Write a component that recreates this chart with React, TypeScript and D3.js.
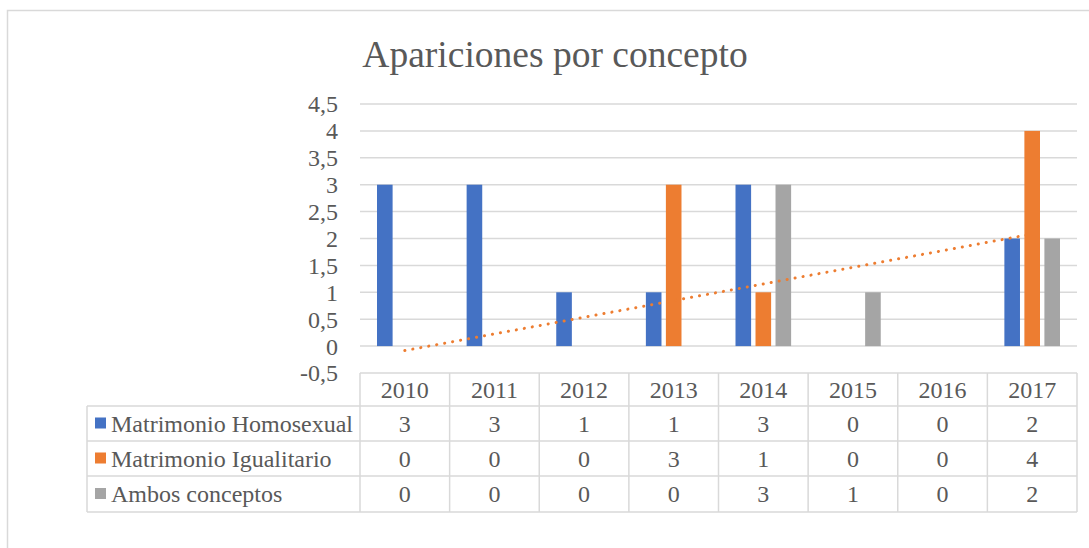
import { useEffect, useRef } from "react";
import * as d3 from "d3";

const years = ["2010", "2011", "2012", "2013", "2014", "2015", "2016", "2017"];
const seriesNames = ["Matrimonio Homosexual", "Matrimonio Igualitario", "Ambos conceptos"];
const homosexual = [3, 3, 1, 1, 3, 0, 0, 2];
const igualitario = [0, 0, 0, 3, 1, 0, 0, 4];
const ambos = [0, 0, 0, 0, 3, 1, 0, 2];
const colors = ["#4472C4", "#ED7D31", "#A5A5A5"];
const yTicks = [-0.5, 0, 0.5, 1, 1.5, 2, 2.5, 3, 3.5, 4, 4.5];

const W = 1089;
const H = 548;
const font = "'Liberation Serif', 'Times New Roman', serif";
const fs = 24;

export default function App() {
  const svgRef = useRef<SVGSVGElement>(null);

  useEffect(() => {
    const svg = d3.select(svgRef.current);
    svg.selectAll("*").remove();

    const series = [homosexual, igualitario, ambos];
    const left = 360, right = 1077, top = 104, bottom = 373;
    const rowH = [33, 35, 35, 36];

    const x = d3.scaleBand().domain(years).range([left, right]).paddingInner(0).paddingOuter(0);
    const y = d3.scaleLinear().domain([-0.5, 4.5]).range([bottom, top]);
    const inner = d3.scaleBand().domain(["0", "1", "2"]).range([17, x.bandwidth() - 17]).paddingInner(0.22);

    // chart frame
    svg.append("path")
      .attr("d", `M7.5,${H}V10.5H${W}`)
      .attr("fill", "none")
      .attr("stroke", "#d9d9d9")
      .attr("stroke-width", 1.5);

    svg.append("text")
      .attr("x", 555)
      .attr("y", 67)
      .attr("text-anchor", "middle")
      .attr("font-family", font)
      .attr("font-size", 37.5)
      .attr("fill", "#595959")
      .text("Apariciones por concepto");

    // gridlines
    svg.append("g").selectAll("line")
      .data(yTicks.filter(t => t > -0.5))
      .enter().append("line")
      .attr("x1", left).attr("x2", right)
      .attr("y1", d => y(d)).attr("y2", d => y(d))
      .attr("stroke", "#d9d9d9")
      .attr("stroke-width", 1.5);

    svg.append("g").selectAll("text")
      .data(yTicks)
      .enter().append("text")
      .attr("x", 338)
      .attr("y", d => y(d))
      .attr("dy", "0.35em")
      .attr("text-anchor", "end")
      .attr("font-family", font)
      .attr("font-size", fs)
      .attr("fill", "#595959")
      .text(d => String(d).replace(".", ","));

    // bars
    series.forEach((vals, si) => {
      svg.append("g").selectAll("rect")
        .data(vals.map((v, i) => ({ v, year: years[i] })).filter(d => d.v > 0))
        .enter().append("rect")
        .attr("x", d => (x(d.year) as number) + (inner(String(si)) as number))
        .attr("width", inner.bandwidth())
        .attr("y", d => y(d.v))
        .attr("height", d => y(0) - y(d.v))
        .attr("fill", colors[si]);
    });

    // linear trendline for Matrimonio Igualitario
    const xs = igualitario.map((_, i) => i + 1);
    const mx = d3.mean(xs) as number;
    const my = d3.mean(igualitario) as number;
    const slope = d3.sum(xs, (xi, i) => (xi - mx) * (igualitario[i] - my)) / d3.sum(xs, xi => (xi - mx) ** 2);
    const icpt = my - slope * mx;
    const cx = (i: number) => (x(years[i]) as number) + x.bandwidth() / 2;
    svg.append("line")
      .attr("x1", cx(0)).attr("y1", y(icpt + slope * 1))
      .attr("x2", cx(years.length - 1)).attr("y2", y(icpt + slope * years.length))
      .attr("stroke", colors[1])
      .attr("stroke-width", 3)
      .attr("stroke-linecap", "round")
      .attr("stroke-dasharray", "0.1 8");

    // data table
    const tLeft = 87;
    const rowsY = [bottom];
    rowH.forEach(h => rowsY.push(rowsY[rowsY.length - 1] + h));
    const tb = svg.append("g");
    const grid = "#d9d9d9";
    rowsY.forEach((ry, i) => {
      tb.append("line")
        .attr("x1", i === 0 ? left : tLeft).attr("x2", right)
        .attr("y1", ry).attr("y2", ry)
        .attr("stroke", grid).attr("stroke-width", 1.5);
    });
    years.concat(["end"]).forEach((yr, i) => {
      const vx = i < years.length ? (x(yr) as number) : right;
      tb.append("line")
        .attr("x1", vx).attr("x2", vx)
        .attr("y1", rowsY[0]).attr("y2", rowsY[4])
        .attr("stroke", grid).attr("stroke-width", 1.5);
    });
    tb.append("line")
      .attr("x1", tLeft).attr("x2", tLeft)
      .attr("y1", rowsY[1]).attr("y2", rowsY[4])
      .attr("stroke", grid).attr("stroke-width", 1.5);

    tb.selectAll("text.yr")
      .data(years)
      .enter().append("text")
      .attr("x", d => (x(d) as number) + x.bandwidth() / 2)
      .attr("y", (rowsY[0] + rowsY[1]) / 2)
      .attr("dy", "0.35em")
      .attr("text-anchor", "middle")
      .attr("font-family", font)
      .attr("font-size", fs)
      .attr("fill", "#595959")
      .text(d => d);

    series.forEach((vals, si) => {
      const cy = (rowsY[si + 1] + rowsY[si + 2]) / 2;
      tb.append("rect")
        .attr("x", 95).attr("y", cy - 6)
        .attr("width", 11).attr("height", 11)
        .attr("fill", colors[si]);
      tb.append("text")
        .attr("x", 111).attr("y", cy)
        .attr("dy", "0.35em")
        .attr("font-family", font)
        .attr("font-size", fs)
        .attr("fill", "#595959")
        .text(seriesNames[si]);
      vals.forEach((v, i) => {
        tb.append("text")
          .attr("x", cx(i)).attr("y", cy)
          .attr("dy", "0.35em")
          .attr("text-anchor", "middle")
          .attr("font-family", font)
          .attr("font-size", fs)
          .attr("fill", "#595959")
          .text(String(v));
      });
    });
  }, []);

  return (
    <svg
      ref={svgRef}
      width={W}
      height={H}
      style={{ position: "fixed", left: 0, top: 0, background: "#fff" }}
    />
  );
}
